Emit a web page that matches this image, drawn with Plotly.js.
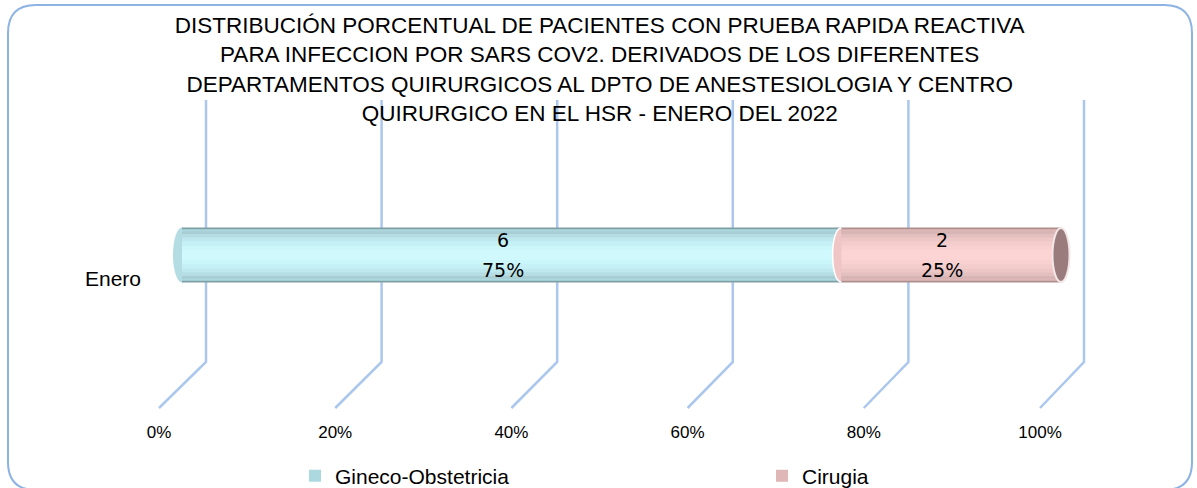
<!DOCTYPE html>
<html>
<head>
<meta charset="utf-8">
<script src="https://cdn.plot.ly/plotly-3.0.1.min.js"></script>
<style>html,body{margin:0;padding:0;background:#fff;}#chart{width:1197px;height:488px;}</style>
</head>
<body>
<div id="chart"></div>
<script>
// ---- data ----
const categories = ['Enero'];
const seriesNames = ['Gineco-Obstetricia', 'Cirugia'];
const ginecoCount = [6];
const cirugiaCount = [2];
const ginecoPct = [75];
const cirugiaPct = [25];
const tickVals = [0, 20, 40, 60, 80, 100];
const tickText = ['0%', '20%', '40%', '60%', '80%', '100%'];
const titleText = 'DISTRIBUCIÓN PORCENTUAL DE PACIENTES CON PRUEBA RAPIDA REACTIVA<br>PARA INFECCION POR SARS COV2. DERIVADOS DE LOS DIFERENTES<br>DEPARTAMENTOS QUIRURGICOS AL DPTO DE ANESTESIOLOGIA Y CENTRO<br>QUIRURGICO EN EL HSR - ENERO DEL 2022';

// ---- styling ----
const W = 1197, H = 488;
const px = x => x / W;
const py = y => 1 - y / H;
const FONT = '"Liberation Sans", Arial, sans-serif';
const gridColor = '#abc7ee';

// cylinder shading: layered bars from outer (dark) to inner (light)
const layerWidths = [0.5, 0.47, 0.43, 0.38, 0.32, 0.25, 0.17, 0.09];
const cyanShades = ['#809fa4', '#95b8be', '#a8ced4', '#b5dde3', '#bee8ee', '#c5f0f5', '#cbf6fa', '#cff9fd'];
const pinkShades = ['#ad8f8e', '#c4a3a2', '#d6b5b4', '#e3c0bf', '#ecc7c6', '#f3cdcc', '#f8d1d0', '#fcd4d3'];

const traces = [];
// invisible anchor so the tick-label axis is drawn
traces.push({type: 'scatter', mode: 'markers', x: [tickVals[0]], y: [0], xaxis: 'x3', yaxis: 'y3',
  marker: {opacity: 0}, showlegend: false, hoverinfo: 'skip'});

function addSeries(name, vals, bases, shades, legendColor) {
  layerWidths.forEach((w, i) => {
    traces.push({
      type: 'bar', orientation: 'h', name: name,
      y: categories, x: vals, base: bases, width: categories.map(() => w),
      xaxis: 'x2', yaxis: 'y2',
      marker: {color: i === 1 ? legendColor : shades[i], line: {width: 0}},
      showlegend: i === 1, legendgroup: name,
      hoverinfo: 'skip'
    });
  });
}
addSeries(seriesNames[0], ginecoPct, categories.map(() => 0), cyanShades, '#acd8e0');
addSeries(seriesNames[1], cirugiaPct, ginecoPct, pinkShades, '#dfb7b6');

// axis geometry (pixels of the 3D projection planes)
const pad = 3; // extra range so cylinder caps are not clipped
const barPx = [182, 1061];
const barScale = (barPx[1] - barPx[0]) / 100;
const barDom = [px(barPx[0] - pad * barScale), px(barPx[1] + pad * barScale)];
const gridPx = [206, 1084];
const labDom = [px(159), px(1040)];
const gridTop = 100, gridBottom = 362, diagBottom = 408;

const shapes = [];
// 3D grid lines: back wall vertical + floor diagonal
tickVals.forEach(v => {
  const xt = px(gridPx[0] + v / 100 * (gridPx[1] - gridPx[0]));
  const xb = labDom[0] + v / 100 * (labDom[1] - labDom[0]);
  shapes.push({type: 'path', xref: 'paper', yref: 'paper',
    path: `M${xt},${py(gridTop)} L${xt},${py(gridBottom)} L${xb},${py(diagBottom)}`,
    line: {color: gridColor, width: 2.5}, layer: 'below'});
});
// cylinder ends
const total = ginecoPct[0] + cirugiaPct[0];
shapes.push({type: 'circle', xref: 'x2', yref: 'y2', xsizemode: 'pixel', ysizemode: 'pixel',
  xanchor: 0, yanchor: categories[0], x0: -9, x1: 9, y0: -27.5, y1: 27.5,
  fillcolor: '#b3dde3', line: {width: 0}, layer: 'below'});
shapes.push({type: 'path', xref: 'x2', yref: 'y2', xsizemode: 'pixel', ysizemode: 'pixel',
  xanchor: ginecoPct[0], yanchor: categories[0],
  path: 'M0,27 C-11.5,27 -11.5,-27 0,-27',
  fillcolor: '#efc6c5', line: {width: 1.5, color: '#ffffff'}, layer: 'above'});
shapes.push({type: 'circle', xref: 'x2', yref: 'y2', xsizemode: 'pixel', ysizemode: 'pixel',
  xanchor: total, yanchor: categories[0], x0: -8.5, x1: 8.5, y0: -27, y1: 27,
  fillcolor: '#9b7c7c', line: {width: 2, color: '#f3e6e6'}, layer: 'above'});
// rounded chart border
(function () {
  const l = 8, t = 5, r = 1192, b = 490, rad = 28;
  const p = `M${px(l)},${py(t + rad)} Q${px(l)},${py(t)} ${px(l + rad)},${py(t)} L${px(r - rad)},${py(t)} Q${px(r)},${py(t)} ${px(r)},${py(t + rad)} L${px(r)},${py(b - rad)} Q${px(r)},${py(b)} ${px(r - rad)},${py(b)} L${px(l + rad)},${py(b)} Q${px(l)},${py(b)} ${px(l)},${py(b - rad)} Z`;
  shapes.push({type: 'path', xref: 'paper', yref: 'paper', path: p,
    line: {color: '#8db3e2', width: 2}, fillcolor: 'rgba(0,0,0,0)', layer: 'below'});
})();

// data labels
const annotations = [];
const labelFont = {family: '"DejaVu Sans", sans-serif', size: 19, color: '#000'};
[[ginecoCount, ginecoPct, categories.map(() => 0)], [cirugiaCount, cirugiaPct, ginecoPct]].forEach(([cnt, pct, base]) => {
  categories.forEach((c, i) => {
    const xc = base[i] + pct[i] / 2;
    annotations.push({xref: 'x2', yref: 'y2', x: xc, y: c, text: String(cnt[i]), showarrow: false,
      xanchor: 'center', xshift: -9, yshift: 15, font: labelFont});
    annotations.push({xref: 'x2', yref: 'y2', x: xc, y: c, text: pct[i] + '%', showarrow: false,
      xanchor: 'center', xshift: -9, yshift: -15, font: labelFont});
  });
});
categories.forEach(c => {
  annotations.push({xref: 'paper', yref: 'y2', x: px(113), y: c, text: c, showarrow: false,
    xanchor: 'center', yshift: -23, font: {family: FONT, size: 21, color: '#000'}});
});

const layout = {
  width: W, height: H,
  margin: {l: 0, r: 0, t: 0, b: 0, autoexpand: false},
  paper_bgcolor: '#fff', plot_bgcolor: 'rgba(0,0,0,0)',
  barmode: 'overlay',
  title: {text: titleText, x: 0.501, xanchor: 'center', xref: 'container', y: 1 - 33 / H, yanchor: 'top', yref: 'container',
    font: {family: FONT, size: 22.5, color: '#000'}},
  xaxis2: {domain: barDom, anchor: 'y2', range: [-pad, 100 + pad], visible: false, fixedrange: true},
  yaxis2: {domain: [py(310), py(200)], anchor: 'x2', type: 'category', range: [-0.5, 0.5], visible: false, fixedrange: true},
  xaxis3: {domain: labDom, anchor: 'y3', range: [0, 100], tickvals: tickVals, ticktext: tickText,
    ticks: '', showgrid: false, zeroline: false, showline: false, fixedrange: true,
    tickfont: {family: FONT, size: 17, color: '#000'}},
  yaxis3: {domain: [py(420), py(415)], anchor: 'x3', range: [0, 1], showgrid: false, zeroline: false, showline: false,
    showticklabels: false, ticks: '', fixedrange: true},
  showlegend: true,
  legend: {orientation: 'h', x: px(295), xanchor: 'left', y: py(476), yanchor: 'middle',
    font: {family: FONT, size: 21, color: '#000'}, entrywidth: 422, entrywidthmode: 'pixels',
    bgcolor: 'rgba(0,0,0,0)', traceorder: 'normal'},
  shapes: shapes,
  annotations: annotations
};

Plotly.newPlot('chart', traces, layout, {displayModeBar: false, staticPlot: true});
</script>
</body>
</html>
